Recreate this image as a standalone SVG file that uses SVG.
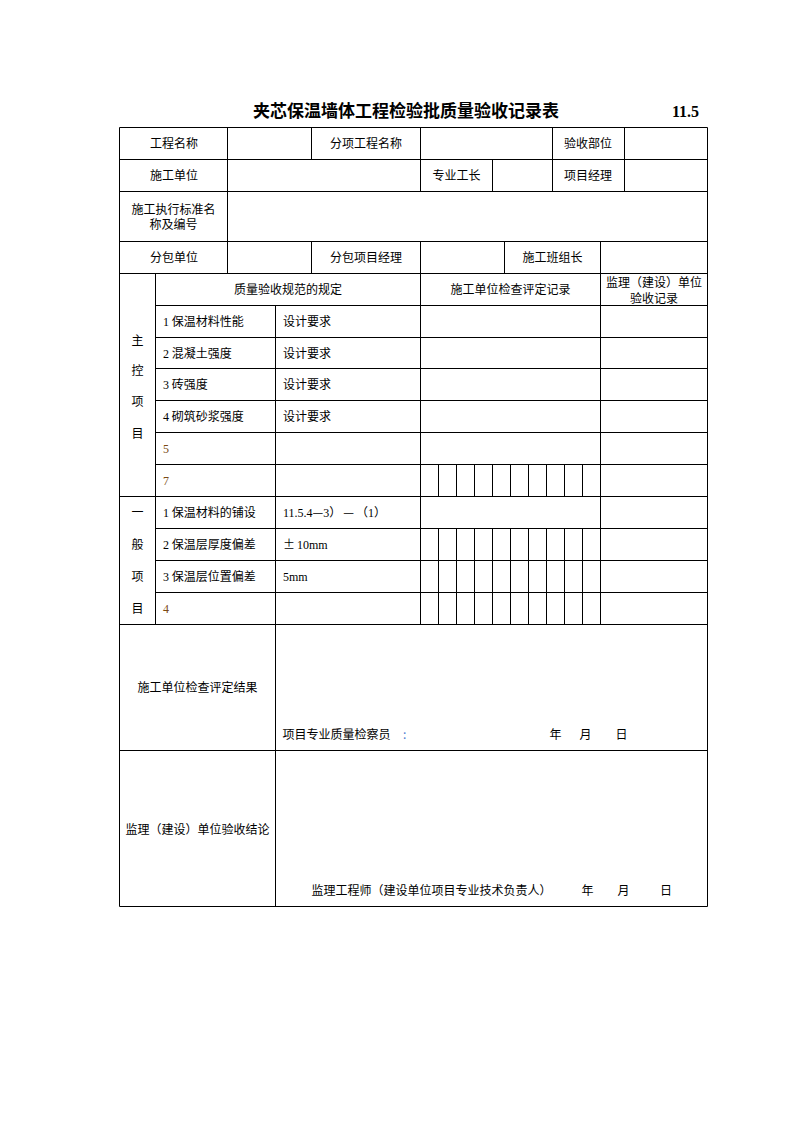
<svg xmlns="http://www.w3.org/2000/svg" width="794" height="1123" viewBox="0 0 794 1123">
<style>
.bg{fill:#ffffff}
.ln{fill:none;stroke:#000000;stroke-width:1}
.t{font-family:"Noto Sans CJK SC","Liberation Sans",sans-serif;font-size:12px;fill:#000000}
.c{text-anchor:middle}
.n{font-family:"Liberation Serif","Noto Sans CJK SC",serif}
.k{font-family:"Noto Sans CJK SC",sans-serif}
.br{fill:#7a4a14}
.title{font-family:"Noto Sans CJK SC",sans-serif;font-size:17px;font-weight:700;fill:#000000;text-anchor:middle}
.num{font-family:"Liberation Serif",serif;font-size:16px;font-weight:700;fill:#000000}
</style>
<rect class="bg" x="0" y="0" width="794" height="1123"/>
<g id="title">
<text class="title" x="406" y="117">夹芯保温墙体工程检验批质量验收记录表</text>
<text class="num" x="672" y="117">11.5</text>
</g>
<g id="grid">
<path class="ln" d="M119.5 127.5H707.5 M119.5 159.5H707.5 M119.5 191.5H707.5 M119.5 241.5H707.5 M119.5 273.5H707.5 M119.5 496.5H707.5 M119.5 624.5H707.5 M119.5 750.5H707.5 M119.5 906.5H707.5
M155.5 305.5H707.5 M155.5 337.5H707.5 M155.5 368.5H707.5 M155.5 400.5H707.5 M155.5 432.5H707.5 M155.5 464.5H707.5 M155.5 528.5H707.5 M155.5 560.5H707.5 M155.5 592.5H707.5
M119.5 127.5V906.5 M707.5 127.5V906.5
M227.5 127.5V273.5
M311.5 127.5V159.5 M311.5 241.5V273.5
M420.5 127.5V191.5 M420.5 241.5V624.5
M552.5 127.5V191.5 M624.5 127.5V191.5
M492.5 159.5V191.5
M504.5 241.5V273.5
M600.5 241.5V624.5
M155.5 273.5V624.5
M275.5 305.5V906.5"/>
<path class="ln" d="M438.5 464.5V496.5 M456.5 464.5V496.5 M474.5 464.5V496.5 M492.5 464.5V496.5 M510.5 464.5V496.5 M528.5 464.5V496.5 M546.5 464.5V496.5 M564.5 464.5V496.5 M582.5 464.5V496.5
M438.5 528.5V624.5 M456.5 528.5V624.5 M474.5 528.5V624.5 M492.5 528.5V624.5 M510.5 528.5V624.5 M528.5 528.5V624.5 M546.5 528.5V624.5 M564.5 528.5V624.5 M582.5 528.5V624.5"/>
</g>
<g id="header">
<text class="t c" x="174" y="148">工程名称</text>
<text class="t c" x="366" y="148">分项工程名称</text>
<text class="t c" x="588" y="148">验收部位</text>
<text class="t c" x="174" y="180">施工单位</text>
<text class="t c" x="456.5" y="180">专业工长</text>
<text class="t c" x="588" y="180">项目经理</text>
<text class="t c" x="173.5" y="214">施工执行标准名</text>
<text class="t c" x="173.5" y="229">称及编号</text>
<text class="t c" x="174" y="262">分包单位</text>
<text class="t c" x="366" y="262">分包项目经理</text>
<text class="t c" x="552.5" y="262">施工班组长</text>
<text class="t c" x="288" y="294">质量验收规范的规定</text>
<text class="t c" x="510.5" y="294">施工单位检查评定记录</text>
<text class="t c" x="654" y="287">监理（建设）单位</text>
<text class="t c" x="654" y="303">验收记录</text>
</g>
<g id="main-items">
<text class="t c" x="137.5" y="344.5">主</text>
<text class="t c" x="137.5" y="374.5">控</text>
<text class="t c" x="137.5" y="405.5">项</text>
<text class="t c" x="137.5" y="437.5">目</text>
<text class="t" x="163" y="326"><tspan class="n">1</tspan> 保温材料性能</text>
<text class="t" x="283" y="326">设计要求</text>
<text class="t" x="163" y="357.5"><tspan class="n">2</tspan> 混凝土强度</text>
<text class="t" x="283" y="357.5">设计要求</text>
<text class="t" x="163" y="389"><tspan class="n">3</tspan> 砖强度</text>
<text class="t" x="283" y="389">设计要求</text>
<text class="t" x="163" y="421"><tspan class="n">4</tspan> 砌筑砂浆强度</text>
<text class="t" x="283" y="421">设计要求</text>
<text class="t n br" x="163" y="453">5</text>
<text class="t n br" x="163" y="485">7</text>
</g>
<g id="general-items">
<text class="t c" x="137.5" y="517">一</text>
<text class="t c" x="137.5" y="549">般</text>
<text class="t c" x="137.5" y="581">项</text>
<text class="t c" x="137.5" y="613">目</text>
<text class="t" x="163" y="517"><tspan class="n">1</tspan> 保温材料的铺设</text>
<text class="t" x="283" y="517"><tspan class="n">11.5.4</tspan><tspan class="k">—</tspan><tspan class="n">3</tspan><tspan class="k">）</tspan><tspan class="k" dx="2">—</tspan><tspan class="k" dx="2">（</tspan><tspan class="n">1</tspan><tspan class="k">）</tspan></text>
<text class="t" x="163" y="549"><tspan class="n">2</tspan> 保温层厚度偏差</text>
<text class="t" x="283" y="549"><tspan class="k">±</tspan><tspan class="n" dx="2">10mm</tspan></text>
<text class="t" x="163" y="581"><tspan class="n">3</tspan> 保温层位置偏差</text>
<text class="t n" x="283" y="581">5mm</text>
<text class="t n br" x="163" y="613">4</text>
</g>
<g id="contractor-result">
<text class="t c" x="197.5" y="692">施工单位检查评定结果</text>
<text class="t" x="282.5" y="739">项目专业质量检察员</text>
<text class="t" x="403" y="739" style="fill:#4a7bd0">:</text>
<text class="t" x="549.5" y="739">年</text>
<text class="t" x="579.5" y="739">月</text>
<text class="t" x="615.5" y="739">日</text>
</g>
<g id="supervisor-conclusion">
<text class="t c" x="197.5" y="833.5">监理（建设）单位验收结论</text>
<text class="t" x="311.5" y="894.5">监理工程师（建设单位项目专业技术负责人）</text>
<text class="t" x="581.5" y="894.5">年</text>
<text class="t" x="617.5" y="894.5">月</text>
<text class="t" x="660" y="894.5">日</text>
</g>
</svg>
